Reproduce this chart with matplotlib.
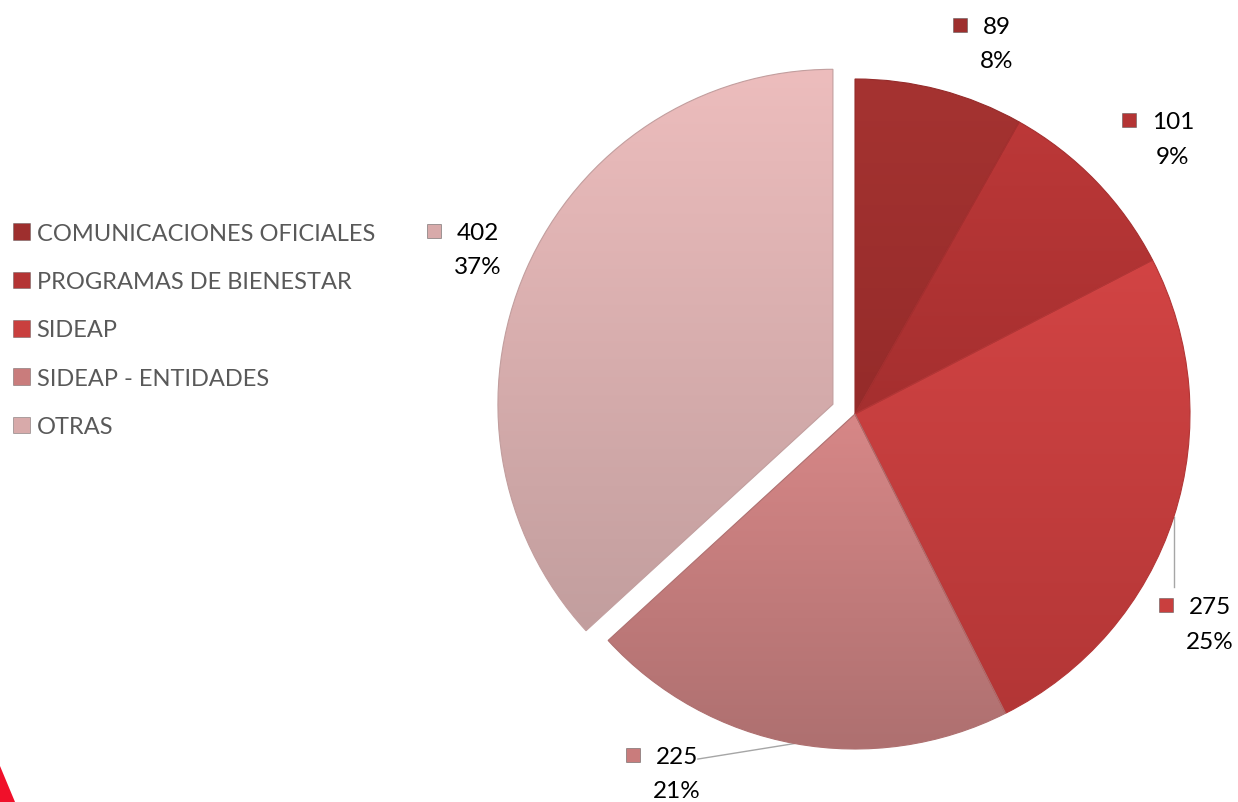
import matplotlib
matplotlib.use('Agg')
import matplotlib.pyplot as plt
import matplotlib.colors as mcolors
from matplotlib.patches import Patch, Polygon
import numpy as np

# data
categories = ['COMUNICACIONES OFICIALES', 'PROGRAMAS DE BIENESTAR', 'SIDEAP',
              'SIDEAP - ENTIDADES', 'OTRAS']
values = [89, 101, 275, 225, 402]

# look
colors = ['#9E2F2E', '#B43434', '#C93F3E', '#C97C7C', '#D8AAAA']
tops = ['#A53331', '#BC3838', '#D24444', '#D78787', '#EDBDBD']
bottoms = ['#952B2A', '#A52F2F', '#B33636', '#AE7070', '#C29E9E']
explode = [0, 0, 0, 0, 0.072]
# label block centres (data units, radius = 1) and whether a leader line is drawn
label_xy = [(0.424, 1.106), (0.949, 0.822), (1.060, -0.626), (-0.531, -1.073), (-1.125, 0.491)]
leader = [False, False, True, True, False]

W, H = 1238, 803
fig = plt.figure(figsize=(W / 100, H / 100), dpi=100)
R_PX = 335
cx, cy = 855, 415
side = 2 * 1.25 * R_PX
ax = fig.add_axes([(cx - side / 2) / W, (H - cy - side / 2) / H, side / W, side / H])

wedges, _ = ax.pie(values, colors=colors, startangle=90, counterclock=False,
                   explode=explode, wedgeprops=dict(edgecolor='none'))
ax.set_aspect('equal')
ax.axis('off')

# vertical gradient fill on each slice
for w, top, bot in zip(wedges, tops, bottoms):
    ext = w.get_path().get_extents()
    t = np.linspace(0, 1, 256)[:, None, None]
    c1 = np.array(mcolors.to_rgb(top))[None, None, :]
    c2 = np.array(mcolors.to_rgb(bot))[None, None, :]
    img = c1 * (1 - t) + c2 * t
    im = ax.imshow(img, extent=(ext.x0, ext.x1, ext.y0, ext.y1), origin='upper',
                   aspect='auto', zorder=2)
    im.set_clip_path(w)
    # thin darker rim
    w.set_edgecolor(mcolors.to_rgba(bot, 1))
    w.set_linewidth(0.8)
    w.set_zorder(3)
    w.set_facecolor('none')

ax.set_xlim(-1.25, 1.25)
ax.set_ylim(-1.25, 1.25)

total = sum(values)
font = ['Lato', 'DejaVu Sans']
for w, v, (lx, ly), lead, col in zip(wedges, values, label_xy, leader, colors):
    pct = f'{v / total:.0%}'
    ax.text(lx, ly + 0.052, str(v), ha='center', va='center', fontsize=17.5,
            family=font, color='black', zorder=5)
    ax.text(lx, ly - 0.052, pct, ha='center', va='center', fontsize=17.5,
            family=font, color='black', zorder=5)
    mx = lx - (len(str(v)) * 14 / 2 + 23) / R_PX
    ax.plot([mx], [ly + 0.056], marker='s', markersize=10, color=col,
            markeredgecolor=mcolors.to_rgba('#555555', 0.6), markeredgewidth=0.6,
            zorder=5, clip_on=False)
    if lead:
        mid = np.deg2rad((w.theta1 + w.theta2) / 2)
        x0 = w.center[0] + w.r * np.cos(mid)
        y0 = w.center[1] + w.r * np.sin(mid)
        if ly < -0.9:
            x1, y1 = lx + 0.062, ly + 0.043
        else:
            x1, y1 = x0, ly + 0.11
        ax.plot([x0, x1], [y0, y1], color='#A6A6A6', lw=1, zorder=1, clip_on=False)

handles = [Patch(facecolor=c, edgecolor=mcolors.to_rgba('#555555', 0.5), linewidth=0.6)
           for c in colors]
fig.legend(handles, categories, loc='center left', bbox_to_anchor=(13 / W, 1 - 331 / H),
           frameon=False, borderpad=0, borderaxespad=0, handlelength=0.7, handleheight=0.7,
           handletextpad=0.3, labelspacing=1.16, labelcolor='#595959',
           prop={'family': font, 'size': 17})

# corner of the red logo at bottom left
fig.patches.append(Polygon([(0, 1 - 767 / H), (15 / W, 0), (0, 0)], closed=True,
                           transform=fig.transFigure, facecolor='#F0102A', edgecolor='none'))

fig.savefig('out.png', dpi=100)
